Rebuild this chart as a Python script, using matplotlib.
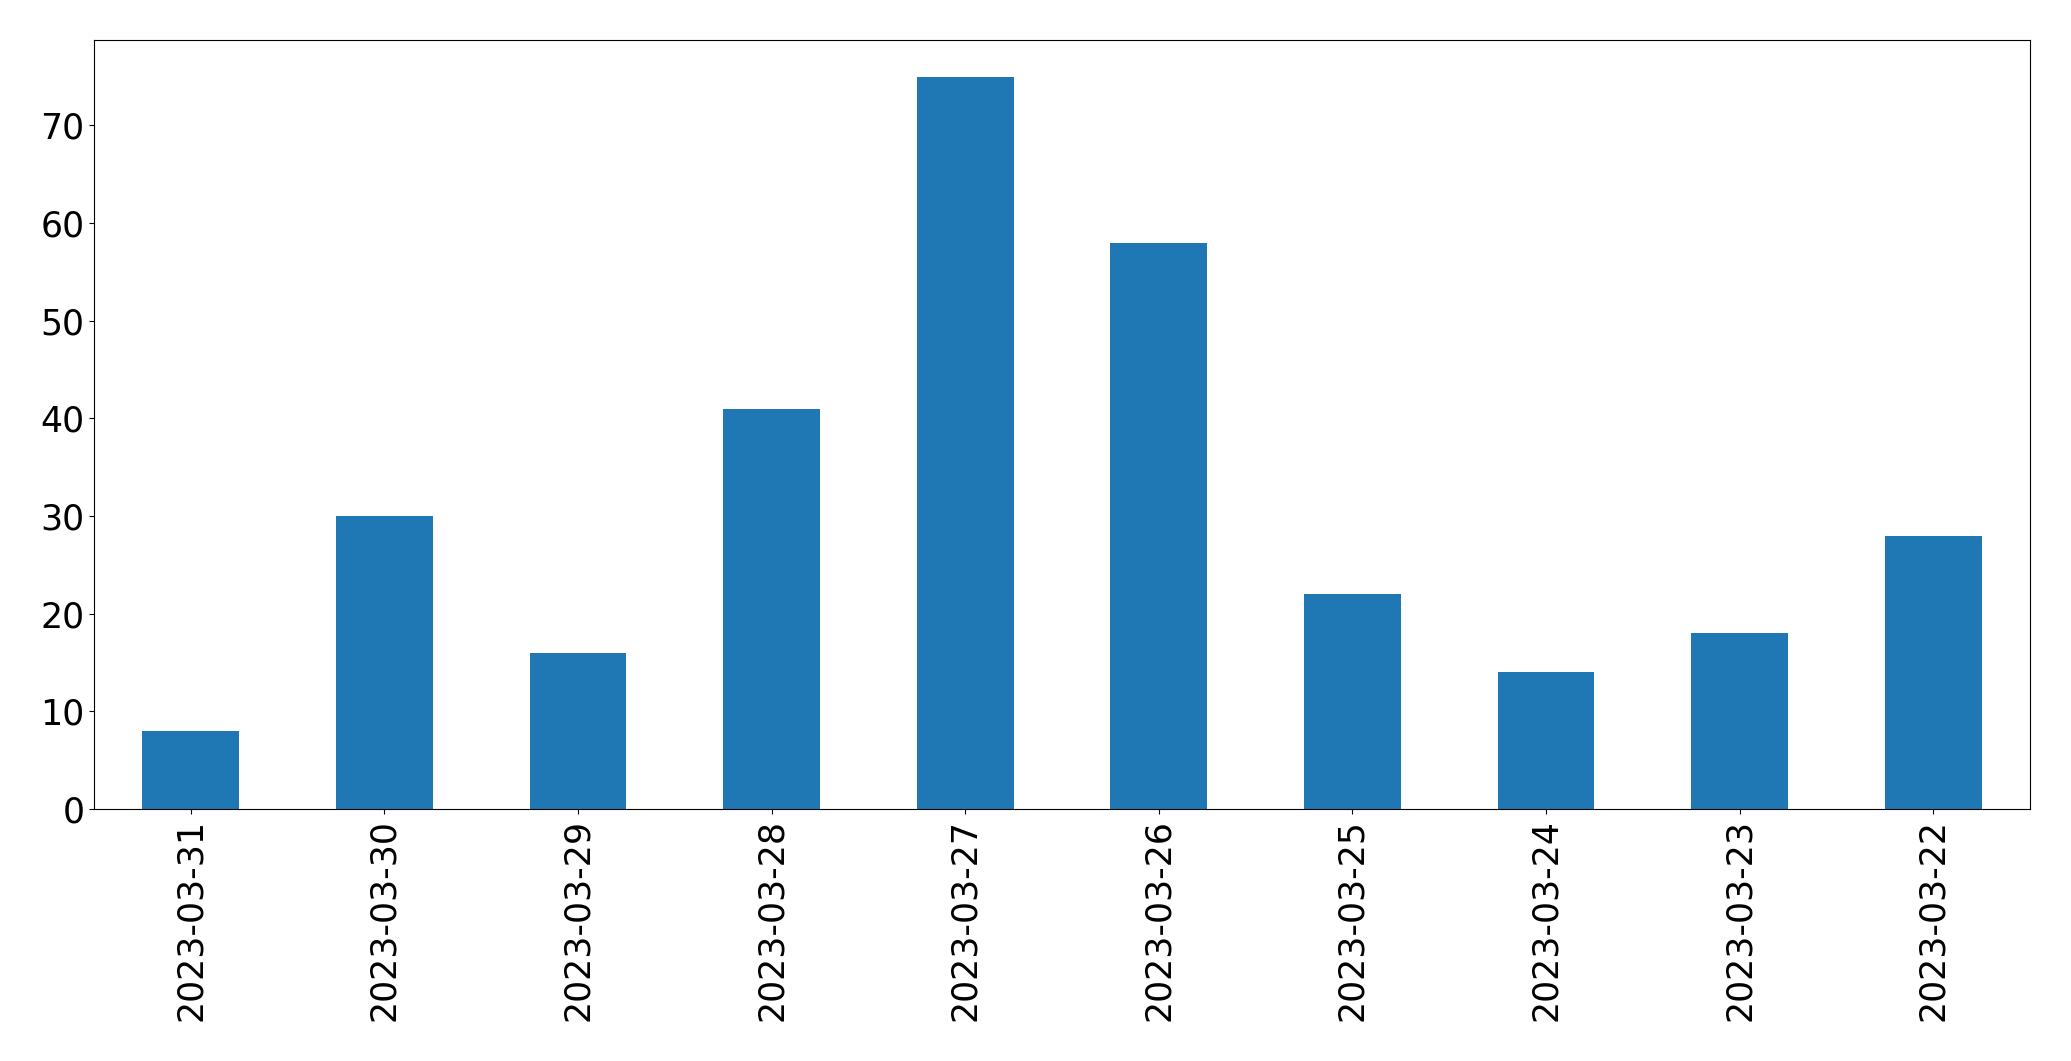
import pandas as pd
import matplotlib
matplotlib.use("Agg")
import matplotlib.pyplot as plt

dates = ['2023-03-31', '2023-03-30', '2023-03-29', '2023-03-28', '2023-03-27',
         '2023-03-26', '2023-03-25', '2023-03-24', '2023-03-23', '2023-03-22']
counts = [8, 30, 16, 41, 75, 58, 22, 14, 18, 28]

s = pd.Series(counts, index=dates)
fig, ax = plt.subplots(figsize=(20.71, 10.61), dpi=100)
s.plot.bar(ax=ax, color='#1f77b4')
ax.tick_params(labelsize=25)
fig.subplots_adjust(left=0.0454, right=0.9802, top=0.9623, bottom=0.2375)
fig.savefig('out.png', dpi=100)
